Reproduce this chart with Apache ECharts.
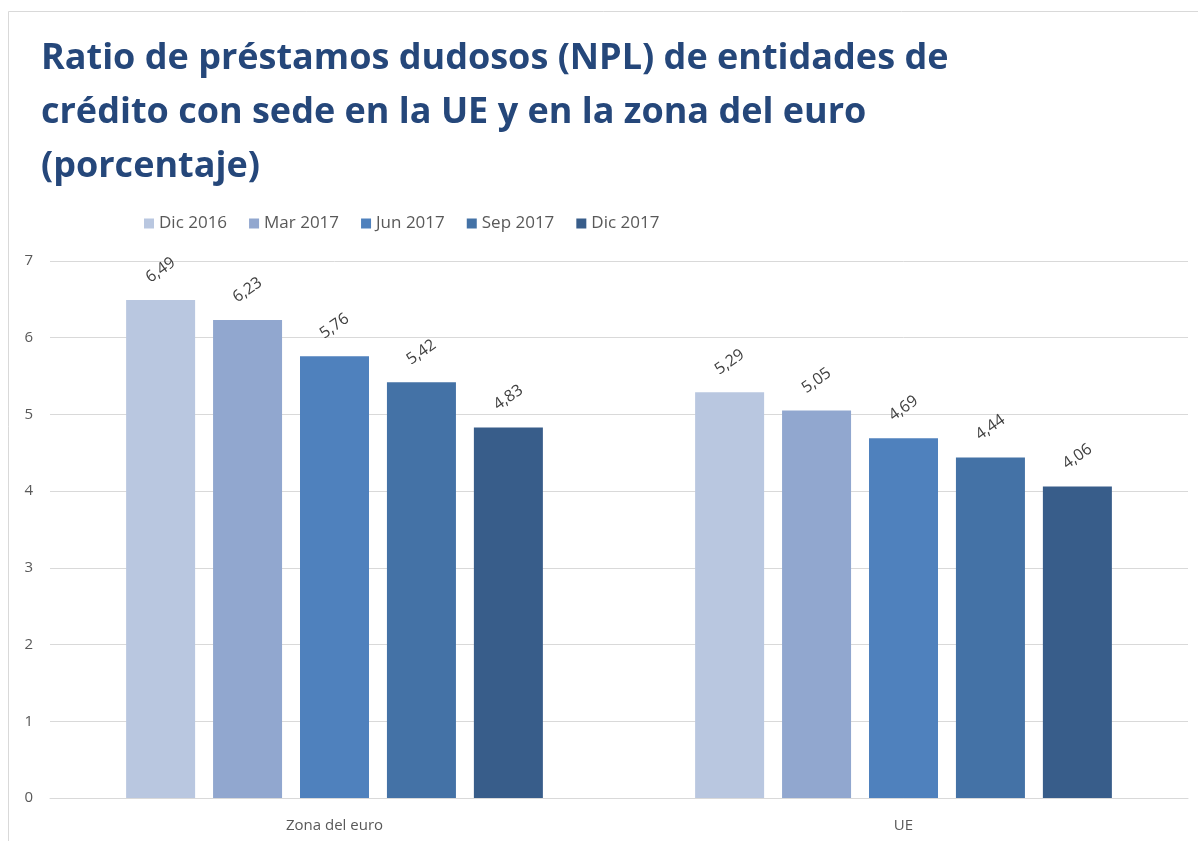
<!DOCTYPE html>
<html>
<head>
<meta charset="utf-8">
<script src="https://cdn.jsdelivr.net/npm/echarts@6/dist/echarts.min.js"></script>
<style>
  html, body { margin: 0; padding: 0; background: #fff; }
  #chart { width: 1198px; height: 841px; }
</style>
</head>
<body>
<div id="chart"></div>
<script>
  // datos
  var categorias = ['Zona del euro', 'UE'];
  var periodos = ['Dic 2016', 'Mar 2017', 'Jun 2017', 'Sep 2017', 'Dic 2017'];
  var dic2016 = [6.49, 5.29];
  var mar2017 = [6.23, 5.05];
  var jun2017 = [5.76, 4.69];
  var sep2017 = [5.42, 4.44];
  var dic2017 = [4.83, 4.06];
  var colores = ['#B9C7E0', '#91A7CF', '#4F81BD', '#4472A6', '#385D8A'];

  var valores = [dic2016, mar2017, jun2017, sep2017, dic2017];

  var myChart = echarts.init(document.getElementById('chart'));

  var seriesData = periodos.map(function (p, i) {
    return {
      name: p,
      type: 'bar',
      data: valores[i],
      barWidth: 69,
      barGap: '26%',
      itemStyle: { color: colores[i] },
      label: {
        show: true,
        position: 'top',
        distance: 30,
        rotate: 35,
        align: 'center',
        verticalAlign: 'middle',
        color: '#404040',
        fontSize: 16,
        fontFamily: 'Open Sans',
        formatter: function (p) {
          return p.value.toFixed(2).replace('.', ',');
        }
      }
    };
  });

  myChart.setOption({
    backgroundColor: '#fff',
    animation: false,
    title: {
      text: 'Ratio de préstamos dudosos (NPL) de entidades de\ncrédito con sede en la UE y en la zona del euro\n(porcentaje)',
      left: 36,
      top: 27,
      textStyle: {
        color: '#25477A',
        fontSize: 36,
        fontWeight: 'bold',
        fontFamily: 'Open Sans',
        lineHeight: 54
      }
    },
    graphic: [{
      type: 'rect',
      shape: { x: 8.5, y: 11.5, width: 1300, height: 900 },
      style: { fill: 'none', stroke: '#D9D9D9', lineWidth: 1 },
      silent: true
    }],
    legend: {
      data: periodos,
      left: 139,
      top: 210,
      icon: 'rect',
      itemWidth: 10,
      itemHeight: 10,
      itemGap: 22,
      textStyle: { color: '#595959', fontSize: 17, fontFamily: 'Open Sans' }
    },
    grid: { left: 50, right: 10, top: 261, bottom: 43 },
    xAxis: {
      type: 'category',
      data: categorias,
      axisLine: { lineStyle: { color: '#D9D9D9' } },
      axisTick: { show: false },
      axisLabel: { color: '#595959', fontSize: 15, fontFamily: 'Open Sans', margin: 20 }
    },
    yAxis: {
      type: 'value',
      min: 0,
      max: 7,
      interval: 1,
      axisLine: { show: false },
      axisTick: { show: false },
      axisLabel: { color: '#595959', fontSize: 15, fontFamily: 'Open Sans', margin: 17 },
      splitLine: { lineStyle: { color: '#D9D9D9' } }
    },
    series: seriesData
  });
</script>
</body>
</html>
